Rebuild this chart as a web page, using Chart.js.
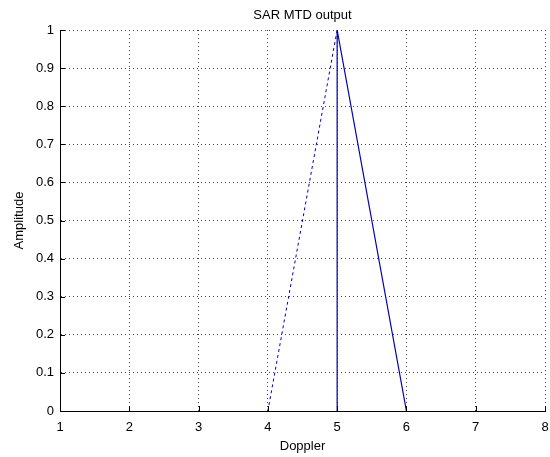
<!DOCTYPE html>
<html>
<head>
<meta charset="utf-8">
<script src="https://cdn.jsdelivr.net/npm/chart.js@4"></script>
<style>
  body { margin: 0; background: #fff; }
  canvas { display: block; }
</style>
</head>
<body>
<canvas id="myChart" width="550" height="457"></canvas>
<script>
// data
var risingX = [4, 5];
var risingY = [0, 1];
var peakX = [5, 5, 6];
var peakY = [0, 1, 0];
var xTicks = [1, 2, 3, 4, 5, 6, 7, 8];
var yTicks = [0, 0.1, 0.2, 0.3, 0.4, 0.5, 0.6, 0.7, 0.8, 0.9, 1];

function toPoints(xs, ys) {
  return xs.map(function (x, i) { return { x: x, y: ys[i] }; });
}

var lineColor = '#0000b4';
var font = { family: 'Liberation Sans, Arial, sans-serif', size: 13, weight: 'normal' };

// MATLAB style ticks pointing into the plot
var innerTicks = {
  id: 'innerTicks',
  afterDraw: function (chart) {
    var ctx = chart.ctx;
    var xs = chart.scales.x, ys = chart.scales.y;
    var area = chart.chartArea;
    ctx.save();
    ctx.strokeStyle = '#000';
    ctx.lineWidth = 1;
    ctx.beginPath();
    xTicks.forEach(function (v) {
      var px = Math.round(xs.getPixelForValue(v)) + 0.5;
      ctx.moveTo(px, area.bottom);
      ctx.lineTo(px, area.bottom - 5);
    });
    yTicks.forEach(function (v) {
      var py = Math.round(ys.getPixelForValue(v)) + 0.5;
      ctx.moveTo(area.left, py);
      ctx.lineTo(area.left + 5, py);
    });
    ctx.stroke();
    ctx.restore();
  }
};

var ctx = document.getElementById('myChart').getContext('2d');
var myChart = new Chart(ctx, {
  type: 'scatter',
  data: {
    datasets: [{
      data: toPoints(risingX, risingY),
      showLine: true,
      borderColor: lineColor,
      borderWidth: 1,
      borderDash: [3, 3],
      pointRadius: 0,
    }, {
      data: toPoints(peakX, peakY),
      showLine: true,
      borderColor: lineColor,
      borderWidth: 1.2,
      pointRadius: 0,
    }]
  },
  options: {
    responsive: false,
    animation: false,
    layout: { padding: { left: 0, right: 0, top: 0, bottom: 0 } },
    plugins: {
      legend: { display: false },
      tooltip: { enabled: false },
      title: {
        display: true,
        text: 'SAR MTD output',
        color: '#000',
        fullSize: false,
        font: font,
        padding: { top: 8, bottom: 6.4 },
      },
    },
    scales: {
      x: {
        type: 'linear',
        min: 1,
        max: 8,
        afterFit: function (scale) {
          scale.height = 46;
          scale.paddingLeft = 0;
          scale.paddingRight = 5;
        },
        ticks: { stepSize: 1, color: '#000', font: font, padding: 9 },
        grid: { color: '#444', drawTicks: false },
        border: { color: '#000', dash: [1, 3] },
        title: { display: true, text: 'Doppler', color: '#000', font: font, padding: { top: 0, bottom: 3 } },
      },
      y: {
        type: 'linear',
        min: 0,
        max: 1,
        afterFit: function (scale) { scale.width = 60; },
        ticks: {
          stepSize: 0.1,
          color: '#000',
          font: font,
          padding: 6,
          callback: function (v) { return String(Math.round(v * 10) / 10); }
        },
        grid: { color: '#444', drawTicks: false },
        border: { color: '#000', dash: [1, 3] },
        title: { display: true, text: 'Amplitude', color: '#000', font: font, padding: { top: 12, bottom: 0 } },
      }
    }
  },
  plugins: [innerTicks]
});
</script>
</body>
</html>
